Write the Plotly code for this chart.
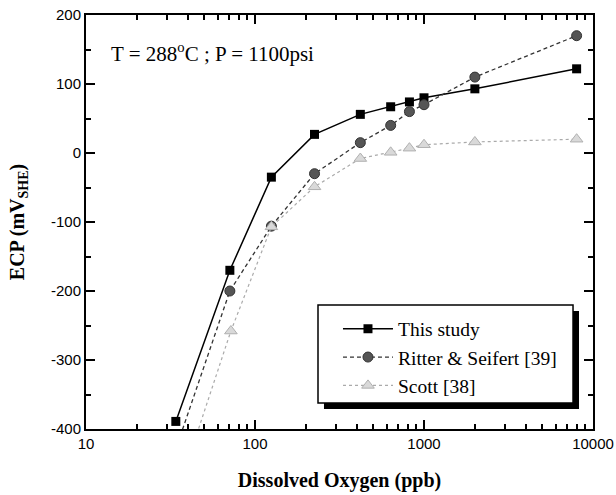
import plotly.graph_objects as go

# Data
x_this = [34, 71, 125, 225, 420, 635, 820, 1000, 2000, 8000]
y_this = [-389, -170, -35, 27, 56, 67, 74, 80, 93, 122]

x_ritter = [35, 71, 125, 225, 420, 635, 820, 1000, 2000, 8000]
y_ritter = [-420, -200, -106, -30, 15, 40, 60, 70, 110, 170]

x_scott = [35, 72, 125, 225, 420, 635, 820, 1000, 2000, 8000]
y_scott = [-490, -258, -107, -49, -8, 1, 7, 12, 16, 20]

names = ["This study", "Ritter &amp; Seifert [39]", "Scott [38]"]

x_ticks = [10, 100, 1000, 10000]
x_ticktext = ["10", "100", "1000", "10000"]
x_minor = [20, 30, 40, 50, 60, 70, 80, 90,
           200, 300, 400, 500, 600, 700, 800, 900,
           2000, 3000, 4000, 5000, 6000, 7000, 8000, 9000]
y_ticks = [-400, -300, -200, -100, 0, 100, 200]
y_ticktext = ["-400", "-300", "-200", "-100", "0", "100", "200"]
y_minor = [-350, -250, -150, -50, 50, 150]

x_range = [1, 4]
y_range = [-400, 200]

fig = go.Figure()
fig.add_trace(go.Scatter(x=x_this, y=y_this, name=names[0], mode="lines+markers",
                         line=dict(color="black", width=1.5),
                         marker=dict(symbol="square", size=9, color="black")))
fig.add_trace(go.Scatter(x=x_ritter, y=y_ritter, name=names[1], mode="lines+markers",
                         line=dict(color="#333333", width=1.3, dash="4px,3px"),
                         marker=dict(symbol="circle", size=10, color="#555555",
                                     line=dict(color="#333333", width=1))))
fig.add_trace(go.Scatter(x=x_scott, y=y_scott, name=names[2], mode="lines+markers",
                         line=dict(color="#aaaaaa", width=1.2, dash="dot"),
                         marker=dict(symbol="triangle-up", size=11, color="#d9d9d9",
                                     line=dict(color="#b0b0b0", width=1))))
# invisible trace hosting the minor-tick overlay axes
fig.add_trace(go.Scatter(x=[1], y=[1000], xaxis="x2", yaxis="y2", showlegend=False,
                         hoverinfo="skip", mode="markers", marker=dict(opacity=0)))

axis_common = dict(showline=True, linecolor="black", linewidth=2, mirror="allticks",
                   ticks="inside", tickcolor="#000000", tickwidth=2, ticklen=9,
                   showgrid=False, zeroline=False, automargin=False,
                   tickfont=dict(family="Liberation Sans, Arial", size=15, color="black"))
minor_common = dict(showline=False, mirror="allticks", ticks="inside", tickcolor="#000000",
                    tickwidth=2, ticklen=5, showgrid=False, zeroline=False,
                    showticklabels=False, automargin=False)

fig.update_layout(
    xaxis=dict(type="log", range=x_range, tickmode="array", tickvals=x_ticks, ticktext=x_ticktext,
               title=dict(text="<b>Dissolved Oxygen (ppb)</b>",
                          font=dict(family="Liberation Serif, Times New Roman", size=20, color="black"),
                          standoff=22),
               **axis_common),
    yaxis=dict(range=y_range, tickmode="array", tickvals=y_ticks, ticktext=y_ticktext,
               title=dict(text="<b>ECP (mV<sub>SHE</sub>)</b>",
                          font=dict(family="Liberation Serif, Times New Roman", size=20, color="black"),
                          standoff=21),
               **axis_common),
    xaxis2=dict(type="log", range=x_range, overlaying="x", anchor="y2", side="bottom",
                tickmode="array", tickvals=x_minor, **minor_common),
    yaxis2=dict(range=y_range, overlaying="y", anchor="x2", side="left",
                tickmode="array", tickvals=y_minor, **minor_common),
)

fig.add_annotation(x=0.045, y=0.9106, xref="paper", yref="paper", xanchor="left", yanchor="middle",
                   text="T = 288<sup>o</sup>C ; P = 1100psi", showarrow=False,
                   font=dict(family="Liberation Serif, Times New Roman", size=21, color="black"))

# legend shadow and frame
fig.add_shape(type="rect", xref="paper", yref="paper",
              x0=0.4694, x1=0.9724, y0=0.0483, y1=0.285,
              fillcolor="black", line=dict(width=0), layer="above")
fig.add_shape(type="rect", xref="paper", yref="paper",
              x0=0.4576, x1=0.9606, y0=0.0628, y1=0.2995,
              fillcolor="white", line=dict(color="black", width=1.5), layer="above")

fig.update_layout(
    width=616, height=495,
    margin=dict(l=86, r=23, t=15, b=66),
    paper_bgcolor="white", plot_bgcolor="white",
    legend=dict(x=0.497, y=0.2886, xanchor="left", yanchor="top",
                bgcolor="rgba(0,0,0,0)", borderwidth=0,
                font=dict(family="Liberation Serif, Times New Roman", size=19.5, color="black"),
                itemwidth=50, tracegroupgap=0),
    showlegend=True,
)

fig.write_html("out.html")
